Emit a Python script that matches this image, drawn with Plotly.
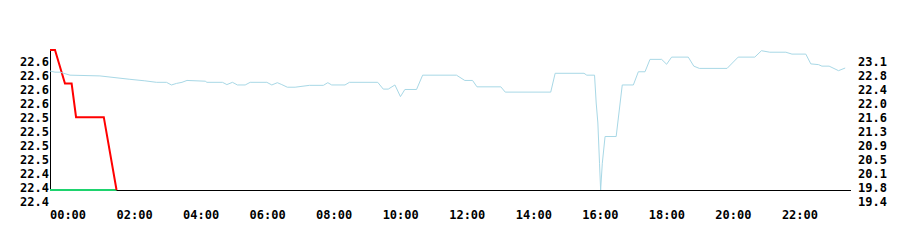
import plotly.graph_objects as go

# ---------------- data ----------------
# time of day as minutes after midnight
blue_minutes = [0, 9, 18, 36, 90, 117, 144, 171, 192, 210, 219, 228, 238, 247, 258, 261, 280, 283,
                311, 319, 329, 338, 352, 361, 391, 400, 410, 418, 428, 442, 468, 493, 501, 508,
                532, 540, 591, 601, 610, 622, 632, 640, 661, 672, 733, 748, 762, 770, 813, 821,
                903, 911, 963, 968, 982, 985, 988, 991, 993, 996, 1001, 1021, 1031, 1032, 1052,
                1061, 1073, 1082, 1103, 1112, 1121, 1151, 1161, 1171, 1221, 1241, 1271, 1283,
                1298, 1327, 1338, 1363, 1372, 1386, 1392, 1405, 1422, 1434]
blue_values = [22.88, 22.85, 22.85, 22.77, 22.75, 22.70, 22.66, 22.62, 22.58, 22.58, 22.51, 22.55,
               22.58, 22.63, 22.63, 22.61, 22.61, 22.58, 22.58, 22.52, 22.58, 22.51, 22.51, 22.58,
               22.58, 22.51, 22.57, 22.52, 22.45, 22.45, 22.50, 22.50, 22.57, 22.51, 22.51, 22.58,
               22.58, 22.40, 22.40, 22.51, 22.20, 22.39, 22.39, 22.77, 22.77, 22.63, 22.63, 22.46,
               22.46, 22.32, 22.32, 22.82, 22.82, 22.77, 22.77, 22.03, 21.50, 20.43, 19.72, 20.43,
               21.14, 21.14, 22.38, 22.51, 22.51, 22.86, 22.86, 23.19, 23.19, 23.06, 23.25, 23.25,
               23.01, 22.95, 22.95, 23.25, 23.25, 23.42, 23.38, 23.38, 23.33, 23.33, 23.07, 23.05,
               23.01, 23.01, 22.89, 22.96]

red_minutes = [0, 9, 27, 39, 47, 97, 120]
red_values = [22.66, 22.66, 22.60, 22.60, 22.54, 22.54, 22.41]

green_minutes = [0, 120]
green_values = [22.41, 22.41]

baseline_value = 22.41  # left-axis minimum, drawn as black base line

x_tick_minutes = [0, 120, 240, 360, 480, 600, 720, 840, 960, 1080, 1200, 1320]
x_tick_labels = ["00:00", "02:00", "04:00", "06:00", "08:00", "10:00",
                 "12:00", "14:00", "16:00", "18:00", "20:00", "22:00"]

left_tick_values = [22.3886, 22.4136, 22.4386, 22.4636, 22.4886, 22.5136,
                    22.5386, 22.5636, 22.5886, 22.6136, 22.6386]
left_tick_labels = ["22.4", "22.4", "22.4", "22.5", "22.5", "22.5",
                    "22.5", "22.6", "22.6", "22.6", "22.6"]

right_tick_values = [19.40, 19.772, 20.144, 20.516, 20.888, 21.26,
                     21.632, 22.004, 22.376, 22.748, 23.12]
right_tick_labels = ["19.4", "19.8", "20.1", "20.5", "20.9", "21.3",
                     "21.6", "22.0", "22.4", "22.8", "23.1"]

# ---------------- figure ----------------
FONT = dict(family="DejaVu Sans Mono", size=12, color="black", weight="bold")

fig = go.Figure()
fig.add_trace(go.Scatter(x=blue_minutes, y=blue_values, yaxis="y2", mode="lines",
                         line=dict(color="#a8d8e6", width=1), hoverinfo="skip"))
fig.add_trace(go.Scatter(x=green_minutes, y=green_values, mode="lines",
                         line=dict(color="#1ed36e", width=2), hoverinfo="skip"))
fig.add_trace(go.Scatter(x=red_minutes, y=red_values, mode="lines",
                         line=dict(color="#ff0000", width=2), hoverinfo="skip"))

# base line (x axis) and left axis line spanning the data range
fig.add_shape(type="line", xref="paper", x0=0, x1=1, yref="y",
              ysizemode="pixel", yanchor=baseline_value, y0=-0.5, y1=-0.5,
              line=dict(color="black", width=1), layer="below")
fig.add_shape(type="line", xref="x", xsizemode="pixel", xanchor=0, x0=0.5, x1=0.5,
              yref="y", y0=baseline_value, y1=max(red_values),
              line=dict(color="black", width=1), layer="below")

fig.update_layout(
    width=900, height=240,
    margin=dict(l=50, r=49, t=40, b=34),
    paper_bgcolor="white", plot_bgcolor="white",
    showlegend=False,
    font=FONT,
    xaxis=dict(range=[0, 1444.5], tickvals=x_tick_minutes, ticktext=x_tick_labels,
               showgrid=False, zeroline=False, showline=False, ticks="",
               ticklabelshift=18, tickfont=FONT),
    yaxis=dict(range=[22.38143, 22.67786], tickvals=left_tick_values, ticktext=left_tick_labels,
               showgrid=False, zeroline=False, showline=False, ticks="", tickfont=FONT),
    yaxis2=dict(range=[19.29371, 23.70457], tickvals=right_tick_values, ticktext=right_tick_labels,
                overlaying="y", side="right",
                showgrid=False, zeroline=False, showline=False, ticks="", tickfont=FONT,
                ticklabelstandoff=6),
)

fig.write_html("out.html")
